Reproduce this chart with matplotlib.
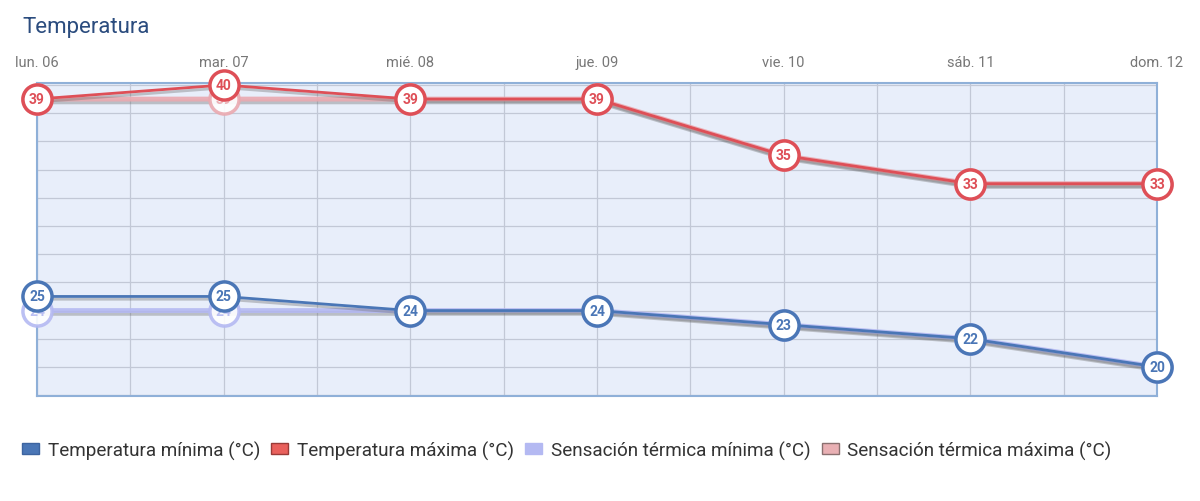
import matplotlib.pyplot as plt
import matplotlib.patheffects as pe
from matplotlib.patches import Patch
import numpy as np

days = ["lun. 06", "mar. 07", "mié. 08", "jue. 09", "vie. 10", "sáb. 11", "dom. 12"]
temp_min = [25, 25, 24, 24, 23, 22, 20]
temp_max = [39, 40, 39, 39, 35, 33, 33]
feel_min = [24, 24, 24, 24, 23, 22, 20]
feel_max = [39, 39, 39, 39, 35, 33, 33]

plt.rcParams["font.family"] = ["Roboto", "DejaVu Sans"]

c_min = "#4a76b6"
c_max = "#de4f57"
c_fmin = "#b4b9f2"
c_fmax = "#eaa9b0"

fig = plt.figure(figsize=(12, 5.02), dpi=100)
ax = fig.add_axes([37 / 1200, 1 - 397 / 502, 1120 / 1200, 313 / 502])
ax.set_facecolor("#e8eefa")
x = np.arange(len(days))

shadow = [pe.SimpleLineShadow(offset=(1, -2), shadow_color="#666666", alpha=0.35), pe.Normal()]


def draw_series(vals, color, lw, alpha, z, show_text=True):
    ax.plot(x, vals, color=color, lw=lw, alpha=alpha, zorder=z,
            path_effects=shadow, clip_on=False, solid_capstyle="round")
    ax.scatter(x, vals, s=440, facecolor="white", edgecolor=color, linewidth=2.5,
               alpha=alpha, zorder=z + 1, clip_on=False)
    if show_text:
        for xi, v in zip(x, vals):
            ax.text(xi, v, str(v), color=color, fontsize=10, fontweight="bold",
                    ha="center", va="center", zorder=z + 2, alpha=alpha)


draw_series(feel_min, c_fmin, 3.5, 0.9, 3)
draw_series(feel_max, c_fmax, 3.5, 0.9, 3)
draw_series(temp_min, c_min, 2, 1.0, 6)
draw_series(temp_max, c_max, 2, 1.0, 6)

ax.set_xlim(0, 6)
ax.set_ylim(17.94, 40.14)
ax.set_xticks(x)
ax.set_xticks(x[:-1] + 0.5, minor=True)
ax.set_xticklabels(days, color="#777777", fontsize=10.5)
ax.xaxis.tick_top()
ax.tick_params(axis="x", which="both", length=0, pad=10)
ax.set_yticks(np.arange(18, 41, 2))
ax.tick_params(axis="y", length=0, labelleft=False)
ax.grid(True, which="both", color="#c2c8d6", lw=0.9)
ax.set_axisbelow(True)
for s in ax.spines.values():
    s.set_color("#8fb0d8")
    s.set_linewidth(1.5)

fig.text(22 / 1200, 1 - 27 / 502, "Temperatura", fontsize=16, color="#2b4c7e", va="center")

handles = [
    Patch(facecolor=c_min, edgecolor="#3d64a0", label="Temperatura mínima (°C)"),
    Patch(facecolor="#e9605c", edgecolor="#9a3b38", label="Temperatura máxima (°C)"),
    Patch(facecolor=c_fmin, edgecolor=c_fmin, label="Sensación térmica mínima (°C)"),
    Patch(facecolor="#e9b0b4", edgecolor="#8a7070", label="Sensación térmica máxima (°C)"),
]
fig.legend(handles=handles, loc="center left", bbox_to_anchor=(5 / 1200, 1 - 451 / 502),
           ncol=4, frameon=False, fontsize=13.6, handlelength=0.9, handleheight=0.5,
           handletextpad=0.45, columnspacing=0.6, labelcolor="#333333")

fig.savefig("out.png", dpi=100, facecolor="white")
